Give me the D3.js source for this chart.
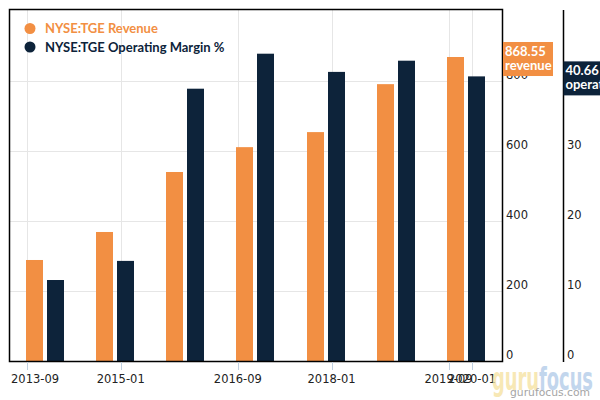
<!DOCTYPE html>
<html><head><meta charset="utf-8">
<script src="https://cdn.jsdelivr.net/npm/d3@7/dist/d3.min.js"></script>
<style>
html,body{margin:0;padding:0;background:#fff;}
svg{display:block;font-family:"DejaVu Sans",sans-serif;}
</style></head>
<body><svg id="chart" width="600" height="400"></svg>
<script>
// ---- data ----
const periods = ["2013-12","2014-12","2015-12","2016-12","2017-12","2018-12","2019-12"];
const revenue = [288.6, 368.6, 540.0, 611.0, 654.0, 791.0, 868.55];
const marginPct = [11.57, 14.3, 38.9, 43.9, 41.3, 42.9, 40.66];
const xTickLabels = ["2013-09","2015-01","2016-09","2018-01","2019-09","2020-01"];
const revTicks = [0, 200, 400, 600, 800];
const marTicks = [0, 10, 20, 30, 40];
const seriesNames = ["NYSE:TGE Revenue", "NYSE:TGE Operating Margin %"];

// ---- layout ----
const W = 600, H = 400;
const L = 9, T = 9, R = 502, B = 361, R2 = 563;
const ORANGE = "#f28f43", NAVY = "#0d233a";
const parse = d3.timeParse("%Y-%m");
const svg = d3.select("#chart");

const x = d3.scaleTime()
  .domain([parse("2013-09"), parse("2020-01")])
  .range([27, 472]);
const yRev = d3.scaleLinear().domain([0, 800]).range([B, 81]);
const yMar = d3.scaleLinear().domain([0, 40]).range([B, 81]);

// gridlines
const g = svg.append("g");
g.selectAll("line.hg").data(revTicks.slice(1)).join("line")
  .attr("x1", L).attr("x2", R)
  .attr("y1", d => Math.round(yRev(d)) + 0.5).attr("y2", d => Math.round(yRev(d)) + 0.5)
  .attr("stroke", "#e6e6e6").attr("stroke-width", 1);
g.selectAll("line.vg").data(xTickLabels).join("line")
  .attr("x1", d => Math.round(x(parse(d))) + 0.5).attr("x2", d => Math.round(x(parse(d))) + 0.5)
  .attr("y1", T).attr("y2", B)
  .attr("stroke", "#e6e6e6").attr("stroke-width", 1);

// bars
const bw = 17;
svg.append("g").selectAll("rect").data(periods).join("rect")
  .attr("x", (d) => Math.round(x(parse(d))) - 19)
  .attr("width", bw)
  .attr("y", (d, i) => yRev(revenue[i]))
  .attr("height", (d, i) => B - yRev(revenue[i]))
  .attr("fill", ORANGE);
svg.append("g").selectAll("rect").data(periods).join("rect")
  .attr("x", (d) => Math.round(x(parse(d))) + 2)
  .attr("width", bw)
  .attr("y", (d, i) => yMar(marginPct[i]))
  .attr("height", (d, i) => B - yMar(marginPct[i]))
  .attr("fill", NAVY);

// frame
svg.append("path")
  .attr("d", `M${L + 0.5},${T + 0.5}H${R + 0.5}V${B + 0.5}H${L + 0.5}Z`)
  .attr("fill", "none").attr("stroke", "#000").attr("stroke-width", 1.5);
svg.append("line").attr("x1", R2 + 0.5).attr("x2", R2 + 0.5).attr("y1", T + 1).attr("y2", B + 1)
  .attr("stroke", "#000").attr("stroke-width", 1.5);

// x axis ticks & labels
const xa = svg.append("g");
xa.selectAll("line").data(xTickLabels).join("line")
  .attr("x1", d => Math.round(x(parse(d))) + 0.5).attr("x2", d => Math.round(x(parse(d))) + 0.5)
  .attr("y1", B + 1).attr("y2", B + 9)
  .attr("stroke", "#c0d0e0").attr("stroke-width", 1);
xa.selectAll("text").data(xTickLabels).join("text")
  .attr("x", d => x(parse(d)))
  .attr("y", 383)
  .attr("text-anchor", "middle")
  .attr("font-size", 11.5).attr("fill", "#222")
  .text(d => d)
  .each(function () {
    const bb = this.getBBox();
    if (bb.x < L + 2) d3.select(this).attr("x", +d3.select(this).attr("x") + (L + 2 - bb.x));
  });

// right axes labels
svg.append("g").selectAll("text").data(revTicks).join("text")
  .attr("x", R + 4).attr("y", d => yRev(d) - 2.5)
  .attr("font-size", 11.5).attr("fill", "#222").text(d => d);
svg.append("g").selectAll("text").data(marTicks).join("text")
  .attr("x", R2 + 4).attr("y", d => yMar(d) - 2.5)
  .attr("font-size", 11.5).attr("fill", "#222").text(d => d);

// legend
const lg = svg.append("g");
[ORANGE, NAVY].forEach((c, i) => {
  lg.append("circle").attr("cx", 30).attr("cy", 28.5 + i * 18.5).attr("r", 5.5).attr("fill", c);
  lg.append("text").attr("x", 45).attr("y", 33 + i * 18.5)
    .attr("font-family", "Lato, sans-serif").attr("font-weight", "bold")
    .attr("font-size", 13).attr("fill", c).text(seriesNames[i]);
});

// last-value labels
const lastRev = revenue[revenue.length - 1];
const lastMar = marginPct[marginPct.length - 1];
function valueBox(xLeft, yc, w, color, lines) {
  const gb = svg.append("g");
  gb.append("rect").attr("x", xLeft).attr("y", yc - 17).attr("width", w).attr("height", 34).attr("fill", color);
  lines.forEach((t, i) => {
    gb.append("text").attr("x", xLeft + 2).attr("y", yc - 3 + i * 14)
      .attr("font-family", "Lato, sans-serif").attr("font-weight", "bold")
      .attr("font-size", 13).attr("fill", "#fff").text(t);
  });
}
valueBox(R + 1, yRev(lastRev) + 2, 50, ORANGE, [d3.format(".2f")(lastRev), "revenue"]);
valueBox(R2 + 0.5, yMar(lastMar) + 2, 110, NAVY, [d3.format(".2f")(lastMar), "operating margin"]);

// watermark
const wm = svg.append("g").attr("opacity", 0.8);
const wt = wm.append("text").attr("x", 492).attr("y", 390)
  .attr("font-family", "'DejaVu Sans', sans-serif").attr("font-weight", "bold")
  .attr("font-size", 32).attr("textLength", 101).attr("lengthAdjust", "spacingAndGlyphs");
wt.append("tspan").attr("fill", "#f6e3a3").text("guru");
wt.append("tspan").attr("fill", "#b4cce9").text("focus");
wm.append("text").attr("x", 510).attr("y", 396)
  .attr("font-family", "'DejaVu Sans', sans-serif")
  .attr("font-size", 11).attr("textLength", 80).attr("lengthAdjust", "spacingAndGlyphs")
  .attr("fill", "#8e8e8e").text("gurufocus.com");
</script>
</body></html>
